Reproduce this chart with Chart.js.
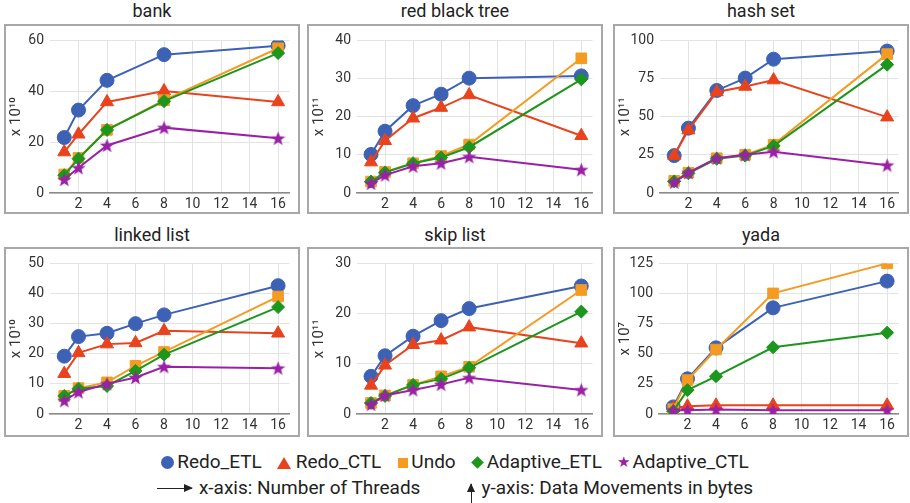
<!DOCTYPE html>
<html>
<head>
<meta charset="utf-8">
<script src="https://cdn.jsdelivr.net/npm/chart.js@4.4.1/dist/chart.umd.min.js"></script>
<style>
  body { margin: 0; width: 910px; height: 503px; background: #fff; position: relative; overflow: hidden;
         font-family: Roboto, sans-serif; color: #222; }
  .title { position: absolute; width: 296px; text-align: center; font-size: 18px; line-height: 20px; }
  .box { position: absolute; width: 292px; height: 186px; border: 2px solid #a8a8a8; }
  .box canvas { display: block; }
  .row { position: absolute; left: 0; width: 910px; text-align: center; font-size: 19px; line-height: 22px; white-space: nowrap; }
  .sym { display: inline-block; vertical-align: middle; margin-right: 3px; }
  .gap { display: inline-block; width: 15px; }
</style>
</head>
<body>

<div class="title" style="left:4px;top:1px">bank</div>
<div class="title" style="left:307px;top:1px">red black tree</div>
<div class="title" style="left:613px;top:1px">hash set</div>
<div class="title" style="left:4px;top:225px">linked list</div>
<div class="title" style="left:307px;top:225px">skip list</div>
<div class="title" style="left:613px;top:225px">yada</div>

<div class="box" style="left:4px;top:24px"><canvas id="c0" width="292" height="186"></canvas></div>
<div class="box" style="left:307px;top:24px"><canvas id="c1" width="292" height="186"></canvas></div>
<div class="box" style="left:613px;top:24px"><canvas id="c2" width="292" height="186"></canvas></div>
<div class="box" style="left:4px;top:247px"><canvas id="c3" width="292" height="186"></canvas></div>
<div class="box" style="left:307px;top:247px"><canvas id="c4" width="292" height="186"></canvas></div>
<div class="box" style="left:613px;top:247px"><canvas id="c5" width="292" height="186"></canvas></div>

<div class="row" style="top:451px"><span class="sym" style="width:13px;height:13px;border-radius:50%;background:#3d62b5"></span>Redo_ETL<span class="gap"></span><span class="sym" style="width:0;height:0;border-left:7px solid transparent;border-right:7px solid transparent;border-bottom:12px solid #e8431d;margin-right:5px"></span>Redo_CTL<span class="gap" style="width:17px"></span><span class="sym" style="width:10px;height:10px;background:#f59b22"></span>Undo<span class="gap"></span><span class="sym" style="width:9px;height:9px;background:#1c961c;transform:rotate(45deg);margin-left:2px;margin-right:5px"></span>Adaptive_ETL<span class="gap"></span><span class="sym" style="font-family:'DejaVu Sans';font-size:15px;color:#9a21a6;vertical-align:1px;margin-right:2px">&#9733;</span>Adaptive_CTL</div>
<div class="row" style="top:477px"><span class="sym" style="position:relative;width:35px;height:1px;background:#222;margin-right:7px"><span style="position:absolute;right:-1px;top:-4px;border-top:4px solid transparent;border-bottom:4px solid transparent;border-left:9px solid #222"></span></span>x-axis: Number of Threads<span style="display:inline-block;width:51px"></span><span class="sym" style="position:relative;width:1px;height:24px;background:#222;margin-right:9px;vertical-align:-14px"><span style="position:absolute;left:-4px;top:-1px;border-left:4px solid transparent;border-right:4px solid transparent;border-bottom:9px solid #222"></span></span>y-axis: Data Movements in bytes</div>

<script>
// series (same order in every panel)
const seriesNames = ['Redo_ETL', 'Redo_CTL', 'Undo', 'Adaptive_ETL', 'Adaptive_CTL'];

// thread counts on the x axis
const threadsShort = [1, 2, 4, 8, 16];
const threadsLong = [1, 2, 4, 6, 8, 16];
const xTickValues = [2, 4, 6, 8, 10, 12, 14, 16];

// panel titles, exponent of the y axis and y tick range
const panelTitles = ['bank', 'red black tree', 'hash set', 'linked list', 'skip list', 'yada'];
const yExponents = ['\u00b9\u2070', '\u00b9\u00b9', '\u00b9\u00b9', '\u00b9\u2070', '\u00b9\u00b9', '\u2077'];
const yMax = [60, 40, 100, 50, 30, 125];
const yStep = [20, 10, 25, 10, 10, 25];

// values, one row per series
const bankValues = [
  [21.8, 32.6, 44.3, 54.4, 57.9],
  [16.1, 23.1, 35.8, 40.1, 35.8],
  [7.3, 13.8, 24.8, 36.5, 56.9],
  [7.0, 13.5, 24.8, 36.1, 55.0],
  [5.3, 9.9, 18.7, 25.7, 21.5]
];
const redBlackTreeValues = [
  [10.1, 16.2, 22.9, 25.9, 30.1, 30.7],
  [8.1, 13.7, 19.6, 22.4, 25.7, 15.0],
  [3.0, 5.5, 7.8, 9.7, 12.7, 35.3],
  [3.0, 5.4, 7.8, 9.3, 12.0, 29.8],
  [2.5, 4.7, 7.0, 7.8, 9.5, 6.1]
];
const hashSetValues = [
  [24.5, 42.5, 67.2, 75.3, 87.7, 93.0],
  [24.5, 41.2, 66.2, 69.8, 74.0, 49.7],
  [8.0, 13.3, 22.8, 25.0, 31.7, 91.0],
  [7.6, 12.9, 22.4, 24.5, 30.9, 84.1],
  [7.0, 13.3, 22.8, 25.0, 27.0, 18.2]
];
const linkedListValues = [
  [19.2, 25.7, 26.8, 30.0, 32.9, 42.6],
  [13.4, 20.3, 23.2, 23.6, 27.6, 26.8],
  [6.0, 8.6, 10.5, 16.0, 20.6, 39.0],
  [6.0, 8.4, 9.3, 14.3, 19.7, 35.5],
  [4.4, 7.3, 10.0, 12.1, 15.7, 15.2]
];
const skipListValues = [
  [7.5, 11.6, 15.5, 18.6, 21.0, 25.5],
  [5.7, 9.7, 13.8, 14.7, 17.3, 14.1],
  [2.2, 3.7, 5.8, 7.5, 9.4, 24.7],
  [2.2, 3.6, 5.8, 7.0, 9.2, 20.4],
  [1.9, 3.7, 4.8, 5.9, 7.2, 4.8]
];
const yadaValues = [
  [5.9, 29.2, 54.9, 88.1, 110.3],
  [5.0, 6.4, 7.2, 7.2, 7.2],
  [4.0, 28.1, 53.5, 100.1, 125.0],
  [2.4, 19.8, 31.3, 55.4, 67.5],
  [3.2, 3.2, 3.7, 3.2, 3.2]
];

const panelThreads = [threadsShort, threadsLong, threadsLong, threadsLong, threadsLong, threadsShort];
const panelValues = [bankValues, redBlackTreeValues, hashSetValues, linkedListValues, skipListValues, yadaValues];

// look
const colors = ['#3d62b5', '#e8431d', '#f59b22', '#1c961c', '#9a21a6'];
const radii = [7, 7.5, 7.5, 6.5, 7];
const yAxisWidth = [44, 48, 45, 44, 48, 44];

function starImage(color, size) {
  const c = document.createElement('canvas');
  c.width = size; c.height = size;
  const g = c.getContext('2d');
  const cx = size / 2, cy = size / 2 + 0.6, ro = size / 2, ri = ro * 0.42;
  g.beginPath();
  for (let i = 0; i < 10; i++) {
    const r = i % 2 ? ri : ro;
    const a = -Math.PI / 2 + i * Math.PI / 5;
    g.lineTo(cx + r * Math.cos(a), cy + r * Math.sin(a));
  }
  g.closePath();
  g.fillStyle = color;
  g.fill();
  return c;
}
const pointStyles = ['circle', 'triangle', 'rect', 'rectRot', starImage(colors[4], 15)];

const tickFont = { family: 'Roboto', size: 14 };

panelValues.forEach(function (values, i) {
  const xs = panelThreads[i];
  const topRow = i < 3;
  new Chart(document.getElementById('c' + i), {
    type: 'line',
    data: {
      datasets: seriesNames.map(function (name, k) {
        return {
          label: name,
          data: xs.map(function (x, j) { return { x: x, y: values[k][j] }; }),
          borderColor: colors[k],
          backgroundColor: colors[k],
          borderWidth: 2,
          pointStyle: pointStyles[k],
          pointRadius: radii[k],
          pointHoverRadius: radii[k],
          pointBorderWidth: 1,
          order: 4 - k
        };
      })
    },
    options: {
      responsive: false,
      animation: false,
      layout: { padding: { top: topRow ? 11 : 7, right: 3, left: 0, bottom: 0 } },
      plugins: { legend: { display: false }, tooltip: { enabled: false } },
      scales: {
        x: {
          type: 'linear',
          min: 0,
          max: 16.8,
          afterBuildTicks: function (s) { s.ticks = xTickValues.map(function (v) { return { value: v }; }); },
          afterFit: function (s) { s.height = topRow ? 19 : 21; },
          grid: { color: '#e3e3e3', drawTicks: false },
          border: { color: '#8a8a8a', width: 1.5 },
          ticks: { padding: 3, font: tickFont, color: '#333', maxRotation: 0, autoSkip: false }
        },
        y: {
          min: 0,
          max: yMax[i],
          afterFit: function (s) { s.width = yAxisWidth[i]; },
          grid: { color: '#e3e3e3', drawTicks: false },
          border: { display: false },
          ticks: { stepSize: yStep[i], padding: 6, font: tickFont, color: '#333' },
          title: {
            display: true,
            text: 'x 10' + yExponents[i],
            font: { family: 'Roboto', size: 15 },
            color: '#333',
            padding: { top: 1, bottom: 0 }
          }
        }
      }
    }
  });
});
</script>
</body>
</html>
